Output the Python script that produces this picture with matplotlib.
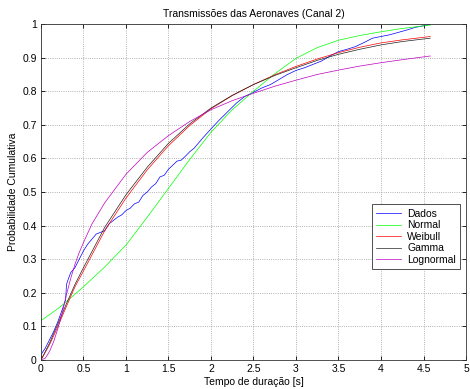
import numpy as np
import matplotlib
matplotlib.use('Agg')
import matplotlib.pyplot as plt
from matplotlib.ticker import FormatStrFormatter

plt.rcParams['font.family'] = ['Liberation Sans', 'DejaVu Sans']

# empirical CDF (blue)
x_dados = [0, 0.01, 0.05, 0.1, 0.15, 0.2, 0.25, 0.29, 0.3, 0.32, 0.35, 0.4, 0.45,
           0.5, 0.55, 0.6, 0.65, 0.7, 0.75, 0.8, 0.85, 0.9, 0.95, 1.0, 1.05, 1.1, 1.15, 1.2, 1.25, 1.3,
           1.35, 1.4, 1.45, 1.5, 1.55, 1.6, 1.65, 1.7, 1.75, 1.8, 1.9, 2.0, 2.1, 2.2, 2.3, 2.4, 2.5, 2.6, 2.7,
           2.8, 2.9, 3.0, 3.1, 3.2, 3.3, 3.4, 3.5, 3.6, 3.7, 3.8, 3.9, 4.0, 4.1,
           4.2, 4.3, 4.4, 4.5, 4.58]
y_dados = [0, 0.02, 0.035, 0.06, 0.085, 0.115, 0.15, 0.18, 0.225, 0.24, 0.26, 0.275, 0.3,
           0.325, 0.345, 0.36, 0.375, 0.38, 0.385, 0.405, 0.415, 0.425, 0.432, 0.445, 0.452, 0.465, 0.47, 0.49, 0.5, 0.515,
           0.525, 0.545, 0.55, 0.568, 0.58, 0.592, 0.595, 0.607, 0.62, 0.63, 0.66, 0.688, 0.715, 0.74, 0.765, 0.785, 0.797, 0.81, 0.82,
           0.835, 0.85, 0.862, 0.87, 0.88, 0.89, 0.905, 0.918, 0.925, 0.933, 0.945, 0.958, 0.963, 0.968,
           0.975, 0.982, 0.99, 0.995, 1.0]

# fitted curves
x_fit = [0, 0.1, 0.2, 0.3, 0.4, 0.5, 0.75, 1.0, 1.25, 1.5, 1.75, 2.0, 2.25,
         2.5, 2.75, 3.0, 3.25, 3.5, 3.75, 4.0, 4.25, 4.58]
y_normal = [0.117, 0.135, 0.153, 0.174, 0.196, 0.218, 0.277, 0.342, 0.425, 0.511, 0.597, 0.678, 0.745,
            0.80, 0.852, 0.898, 0.93, 0.952, 0.966, 0.977, 0.987, 0.997]
y_weibull = [0, 0.045, 0.10, 0.16, 0.218, 0.265, 0.385, 0.482, 0.566, 0.638, 0.698, 0.748, 0.787,
             0.82, 0.849, 0.874, 0.896, 0.915, 0.931, 0.944, 0.953, 0.963]
y_gamma = [0, 0.05, 0.108, 0.168, 0.225, 0.275, 0.395, 0.492, 0.574, 0.645, 0.703, 0.75, 0.788,
           0.82, 0.847, 0.87, 0.892, 0.91, 0.925, 0.938, 0.948, 0.958]

x_logn = [0, 0.05, 0.1, 0.15, 0.2, 0.25, 0.3, 0.35, 0.4, 0.45, 0.5, 0.6, 0.75, 1.0, 1.25,
          1.5, 1.75, 2.0, 2.25, 2.5, 2.75, 3.0, 3.25, 3.5, 3.75, 4.0, 4.25, 4.58]
y_logn = [0, 0.005, 0.025, 0.055, 0.095, 0.14, 0.195, 0.243, 0.285, 0.32, 0.35, 0.405, 0.468, 0.553, 0.618,
          0.668, 0.71, 0.745, 0.772, 0.794, 0.815, 0.833, 0.85, 0.863, 0.875, 0.885, 0.894, 0.905]

fig = plt.figure(figsize=(4.7, 3.89), dpi=100)
ax = fig.add_axes([0.0872, 0.0746, 0.9043, 0.8635])

lw = 0.5
ax.plot(x_dados, y_dados, color='b', lw=lw, label='Dados')
ax.plot(x_fit, y_normal, color='#00ff00', lw=lw, label='Normal')
ax.plot(x_fit, y_weibull, color='r', lw=lw, label='Weibull')
ax.plot(x_fit, y_gamma, color='#222222', lw=lw, label='Gamma')
ax.plot(x_logn, y_logn, color='m', lw=lw, label='Lognormal')

ax.set_xlim(0, 5)
ax.set_ylim(0, 1)
ax.set_xticks(np.arange(0, 5.01, 0.5))
ax.set_yticks(np.arange(0, 1.01, 0.1))
ax.xaxis.set_major_formatter(FormatStrFormatter('%g'))
ax.yaxis.set_major_formatter(FormatStrFormatter('%g'))
ax.tick_params(direction='in', labelsize=7.5, length=3, width=0.6,
               top=True, right=True, pad=3)
ax.grid(True, linestyle=':', color='#999999', linewidth=0.6)
for s in ax.spines.values():
    s.set_linewidth(0.6)
    s.set_color('#333333')

ax.set_title('Transmissões das Aeronaves (Canal 2)', fontsize=7.5, pad=5)
ax.set_xlabel('Tempo de duração [s]', fontsize=7.5, labelpad=2)
ax.set_ylabel('Probabilidade Cumulativa', fontsize=7.5, labelpad=3)

leg = ax.legend(loc='upper left', bbox_to_anchor=(0.778, 0.463), borderaxespad=0,
                fontsize=7.5, fancybox=False, framealpha=1, edgecolor='#333333',
                handlelength=2.4, handletextpad=0.6, labelspacing=0.15,
                borderpad=0.4)
leg.get_frame().set_linewidth(0.6)

fig.savefig('out.png', dpi=100, facecolor='white')
